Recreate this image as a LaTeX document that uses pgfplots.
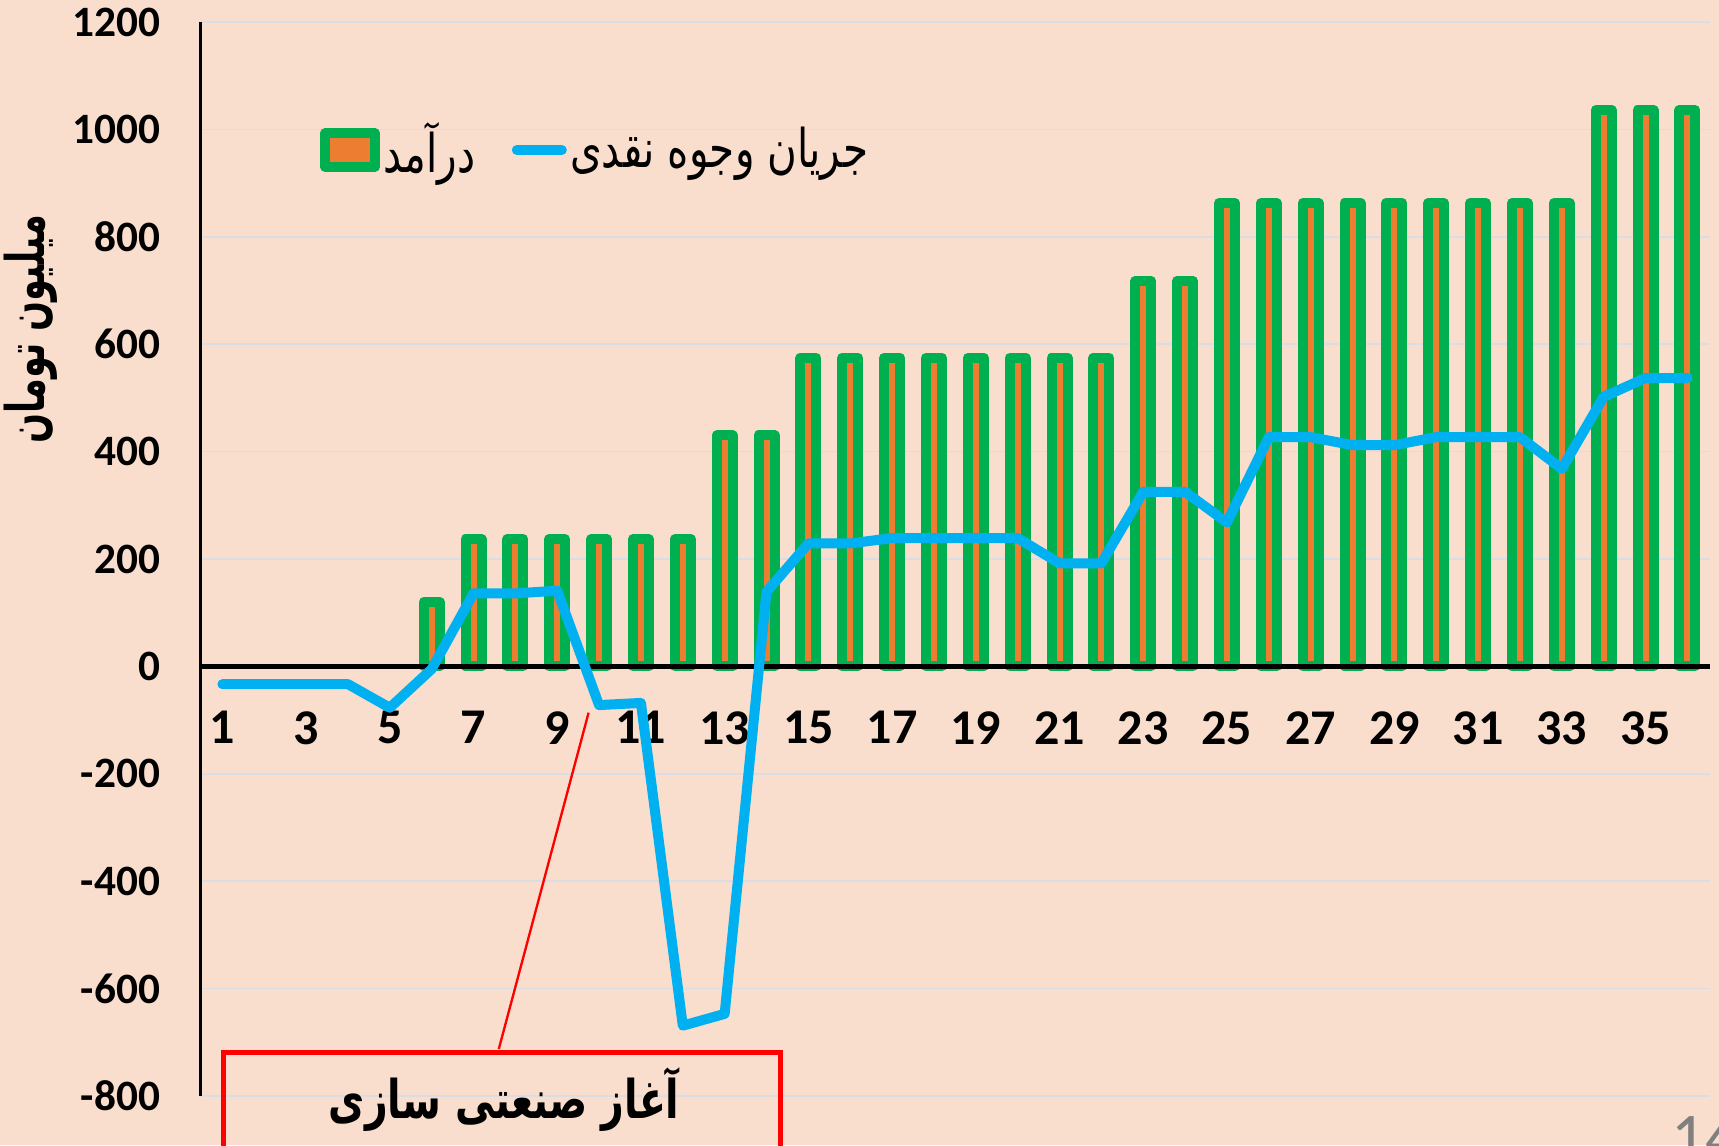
\documentclass[border=0pt]{standalone}
\usepackage{fontspec}
\usepackage{pgfplots}
\usepackage{pgfplotstable}
\pgfplotsset{compat=1.18}
\setmainfont{Carlito}
\newfontfamily\arabicfont[Script=Arabic]{DejaVu Sans}
\TeXXeTstate=1
\definecolor{bg}{RGB}{249,222,205}
\definecolor{bargreen}{RGB}{0,176,80}
\definecolor{barorange}{RGB}{237,125,49}
\definecolor{lineblue}{RGB}{0,176,240}
\definecolor{gridc}{RGB}{218,222,228}

\pgfplotstableread{
x cash
1 -33
2 -33
3 -33
4 -33
5 -77
6 -5
7 136
8 136
9 141
10 -72
11 -68
12 -669
13 -647
14 139
15 229
16 229
17 239
18 239
19 239
20 239
21 192
22 192
23 325
24 325
25 268
26 427
27 427
28 412
29 412
30 427
31 427
32 427
33 368
34 502
35 537
36 537
}\cashtable

\pgfplotstableread{
x inc
6 120
7 237
8 237
9 237
10 237
11 237
12 237
13 430
14 430
15 575
16 575
17 575
18 575
19 575
20 575
21 575
22 575
23 718
24 718
25 863
26 863
27 863
28 863
29 863
30 863
31 863
32 863
33 863
34 1036
35 1036
36 1036
}\inctable

\begin{document}
\begin{tikzpicture}
\useasboundingbox (-60.18pt,-14.7pt) rectangle (455.52pt,328.8pt);
\fill[bg] (-60.18pt,-14.7pt) rectangle (455.52pt,328.8pt);
\begin{axis}[
  at={(0pt,0pt)}, anchor=south west,
  scale only axis, width=452.8pt, height=322.2pt,
  xmin=0.48, xmax=36.54, ymin=-800, ymax=1200,
  axis y line=left, axis x line=middle,
  x axis line style={draw=none},
  y axis line style={-, line width=1pt, black},
  major tick length=0pt,
  xtick={1,3,...,35},
  ytick={-800,-600,...,1200},
  ymajorgrids, grid style={gridc, line width=0.45pt},
  /pgf/number format/assume math mode=true,
  /pgf/number format/set thousands separator={},
  yticklabel style={font=\fontsize{13}{13}\selectfont\bfseries, xshift=-8.6pt},
  xticklabel style={font=\fontsize{15}{15}\selectfont\bfseries, yshift=-10pt},
  ylabel={\scalebox{0.66}[1]{\beginR میلیون تومان\endR}},
  ylabel style={at={(axis description cs:-0.1126,0.714)}, anchor=center, font=\arabicfont\bfseries\fontsize{16}{16}\selectfont},
  legend columns=2,
  legend style={at={(0.072,0.8808)}, anchor=west, draw=none, fill=none,
    nodes={inner xsep=1pt, inner ysep=1pt},
    /tikz/every even column/.append style={column sep=10pt}},
]
\addplot[ybar, bar width=4.8pt, fill=barorange, draw=bargreen, line width=3pt, line join=round,
  legend image code/.code={\draw[fill=barorange, draw=bargreen, line width=3pt, line join=round] (0pt,-5pt) rectangle (15pt,5pt);}]
  table[x=x, y=inc]{\inctable};
\addlegendentry{\arabicfont\fontsize{16}{16}\selectfont\scalebox{0.76}[1]{\beginR درآمد\endR}}
\draw[black, line width=1.3pt] (axis cs:0.48,0) -- (axis cs:36.54,0);
\addplot[lineblue, line width=3pt, line join=round, line cap=round, mark=none,
  legend image code/.code={\draw[lineblue, line width=3pt, line cap=round] (1.5pt,0pt) -- (15pt,0pt);}]
  table[x=x, y=cash]{\cashtable};
\addlegendentry{\arabicfont\fontsize{16}{16}\selectfont\scalebox{0.76}[1]{\beginR جریان وجوه نقدی\endR}}
\end{axis}
\draw[red, line width=0.7pt] (89.46pt,14.1pt) -- (116.4pt,115pt);
\draw[red, line width=1.3pt] (6.9pt,-40pt) rectangle (174pt,13.08pt);
\node[font=\arabicfont\bfseries\fontsize{16}{16}\selectfont, xscale=0.74] at (91.1pt,-1.1pt) {\beginR آغاز صنعتی سازی\endR};
\node[anchor=north west, text=gray, font=\fontsize{20}{20}\selectfont, inner sep=0pt] at (441pt,-6pt) {14};
\end{tikzpicture}
\end{document}
